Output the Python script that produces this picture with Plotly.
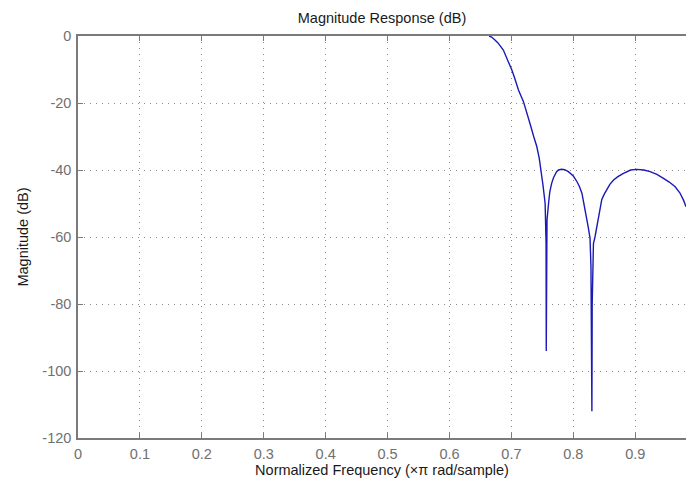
import plotly.graph_objects as go

# Normalized frequency (x pi rad/sample) and magnitude (dB)
freq = [0.664, 0.668, 0.673, 0.678, 0.687, 0.694, 0.7006, 0.706, 0.7114, 0.7195, 0.725, 0.730, 0.736, 0.741,
        0.745, 0.748, 0.751, 0.7545, 0.7555, 0.7560, 0.7563, 0.7567, 0.7575, 0.760, 0.762, 0.765, 0.768,
        0.773, 0.776, 0.781, 0.786, 0.792, 0.797, 0.800, 0.806, 0.810, 0.814, 0.818, 0.821, 0.824, 0.827,
        0.8285, 0.8295, 0.8300, 0.8305, 0.8315, 0.8325, 0.835, 0.838, 0.8406, 0.843, 0.846, 0.850, 0.854,
        0.859, 0.865, 0.872, 0.881, 0.8926, 0.9026, 0.914, 0.924, 0.935, 0.9456, 0.955, 0.9645, 0.972,
        0.978, 0.982]
mag_db = [0.0, -0.3, -1.1, -2.0, -4.2, -7.0, -10.1, -13.0, -16.1, -19.6, -22.8, -26.1, -30.0, -33.0,
          -36.5, -40.0, -44.5, -50.0, -55.0, -62.0, -94.0, -63.0, -55.0, -50.0, -46.5, -44.0, -42.3,
          -40.5, -40.0, -39.8, -39.9, -40.5, -41.2, -41.8, -43.5, -45.0, -47.0, -50.5, -54.0, -57.0, -60.3,
          -68.9, -85.0, -112.0, -80.0, -66.0, -62.0, -60.0, -57.0, -54.0, -51.5, -48.8, -47.2, -46.0,
          -44.3, -43.0, -42.0, -41.0, -40.0, -39.8, -40.0, -40.5, -41.3, -42.5, -43.6, -45.0, -46.8,
          -49.0, -51.0]

x_ticks = [0, 0.1, 0.2, 0.3, 0.4, 0.5, 0.6, 0.7, 0.8, 0.9]
y_ticks = [0, -20, -40, -60, -80, -100, -120]

fig = go.Figure()
fig.add_trace(go.Scatter(x=freq, y=mag_db, mode="lines",
                         line=dict(color="#1a1ab4", width=1.4), showlegend=False))

font = "Liberation Sans, Arial, sans-serif"
axis_common = dict(
    showline=True, linecolor="#7a7a7a", linewidth=1.5,
    ticks="inside", ticklen=5, tickcolor="#7a7a7a", tickwidth=1,
    showgrid=True, gridcolor="#8a8a8a", gridwidth=1, griddash="1px,5px",
    zeroline=False,
    tickfont=dict(family=font, size=14.5, color="#707070"),
)

fig.update_layout(
    width=686, height=483,
    margin=dict(l=78, r=0, t=36, b=45),
    paper_bgcolor="white", plot_bgcolor="white",
    title=dict(text="Magnitude Response (dB)", x=0.5, xref="paper", xanchor="center",
               y=1 - 18 / 483, yanchor="middle",
               font=dict(family=font, size=14.5, color="#1a1a1a")),
    xaxis=dict(range=[0, 0.982], tickvals=x_ticks, ticktext=[str(t) for t in x_ticks],
               mirror="ticks", ticklabelstandoff=2,
               title=dict(text="Normalized Frequency (×π rad/sample)", standoff=2,
                          font=dict(family=font, size=14.5, color="#1a1a1a")),
               **axis_common),
    yaxis=dict(range=[-120, 0], tickvals=y_ticks, ticktext=[str(t) for t in y_ticks],
               ticklabelstandoff=2,
               title=dict(text="Magnitude (dB)", standoff=10,
                          font=dict(family=font, size=14.5, color="#1a1a1a")),
               **axis_common),
)

fig.write_html("out.html")
